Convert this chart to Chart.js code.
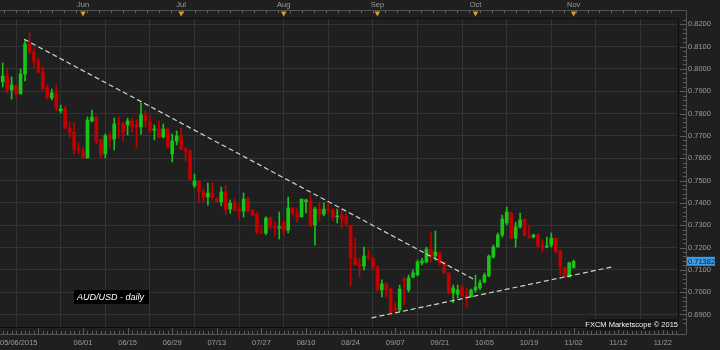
<!DOCTYPE html>
<html><head><meta charset="utf-8">
<script src="https://cdn.jsdelivr.net/npm/chart.js@4.4.1/dist/chart.umd.min.js"></script>
<style>html,body{margin:0;padding:0;background:#1e1e1e;overflow:hidden}canvas{display:block}</style>
</head><body>
<canvas id="c" width="720" height="350"></canvas>
<script>
// ---- data (AUD/USD daily, 05/06/2015 .. 11/02/2015, one entry per trading day) ----
const opens = [.7942,.7968,.7906,.7924,.7888,.7977,.8112,.8076,.8036,.7986,
.7915,.7870,.7892,.7812,.7821,.7735,.7717,.7641,.7632,.7601,
.7767,.7785,.7682,.7619,.7700,.7686,.7758,.7753,.7749,.7767,
.7749,.7740,.7794,.7762,.7726,.7731,.7695,.7731,.7619,.7677,
.7700,.7641,.7632,.7476,.7498,.7449,.7426,.7444,.7417,.7404,
.7449,.7372,.7399,.7372,.7363,.7417,.7368,.7350,.7269,.7265,
.7332,.7292,.7287,.7314,.7278,.7377,.7354,.7337,.7404,.7408,
.7301,.7372,.7350,.7372,.7368,.7337,.7345,.7337,.7296,.7153,
.7126,.7117,.7162,.7153,.7113,.7010,.7037,.7014,.6930,.6921,
.7059,.7010,.7068,.7077,.7131,.7135,.7193,.7162,.7175,.7131,
.7086,.6997,.6992,.7023,.6988,.6979,.7010,.7019,.7046,.7073,
.7157,.7202,.7256,.7310,.7354,.7242,.7292,.7328,.7251,.7247,
.7256,.7207,.7202,.7211,.7242,.7184,.7109,.7068,.7109];
const highs = [.8027,.8004,.7964,.7928,.8000,.8130,.8161,.8094,.8049,.8009,
.7928,.7910,.7928,.7838,.7834,.7762,.7758,.7668,.7650,.7785,
.7816,.7785,.7686,.7708,.7717,.7780,.7785,.7762,.7780,.7780,
.7771,.7847,.7812,.7794,.7749,.7767,.7753,.7735,.7708,.7722,
.7735,.7650,.7637,.7529,.7498,.7462,.7489,.7489,.7422,.7471,
.7476,.7413,.7417,.7395,.7444,.7426,.7368,.7359,.7301,.7337,
.7337,.7314,.7359,.7319,.7426,.7381,.7377,.7417,.7417,.7435,
.7381,.7404,.7399,.7399,.7377,.7372,.7372,.7354,.7301,.7242,
.7153,.7202,.7189,.7157,.7117,.7055,.7041,.7019,.6952,.7032,
.7068,.7077,.7100,.7144,.7153,.7202,.7269,.7274,.7180,.7135,
.7086,.7032,.7032,.7032,.7019,.7014,.7077,.7055,.7086,.7166,
.7211,.7265,.7345,.7381,.7359,.7314,.7354,.7328,.7301,.7260,
.7260,.7234,.7247,.7265,.7242,.7189,.7113,.7135,.7144];
const lows = [.7919,.7892,.7865,.7874,.7888,.7946,.8067,.8004,.7982,.7906,
.7865,.7861,.7812,.7803,.7731,.7691,.7619,.7619,.7601,.7601,
.7762,.7664,.7601,.7601,.7646,.7637,.7691,.7677,.7704,.7717,
.7646,.7708,.7740,.7717,.7682,.7691,.7691,.7646,.7583,.7659,
.7637,.7588,.7502,.7467,.7399,.7399,.7390,.7417,.7404,.7386,
.7350,.7354,.7363,.7328,.7337,.7359,.7341,.7260,.7265,.7256,
.7283,.7251,.7238,.7256,.7265,.7341,.7314,.7337,.7354,.7292,
.7211,.7319,.7341,.7354,.7323,.7310,.7287,.7296,.7028,.7122,
.7068,.7100,.7144,.7104,.7005,.6979,.6979,.6898,.6912,.6912,
.6943,.7001,.7064,.7073,.7122,.7131,.7135,.7144,.7122,.7082,
.6992,.6952,.6974,.6979,.6934,.6979,.7001,.7010,.7041,.7068,
.7153,.7202,.7247,.7301,.7238,.7202,.7287,.7251,.7242,.7242,
.7202,.7180,.7198,.7202,.7175,.7077,.7064,.7068,.7109];
const closes = [.7968,.7906,.7928,.7888,.7977,.8112,.8076,.8031,.7986,.7910,
.7870,.7892,.7825,.7821,.7735,.7717,.7641,.7637,.7601,.7771,
.7785,.7677,.7614,.7700,.7686,.7753,.7753,.7717,.7767,.7744,
.7740,.7794,.7767,.7726,.7731,.7695,.7731,.7650,.7677,.7700,
.7641,.7632,.7507,.7498,.7449,.7426,.7444,.7426,.7408,.7449,
.7372,.7399,.7368,.7363,.7417,.7363,.7345,.7269,.7265,.7332,
.7292,.7287,.7292,.7278,.7377,.7354,.7337,.7417,.7413,.7301,
.7372,.7350,.7372,.7368,.7337,.7341,.7328,.7305,.7153,.7122,
.7117,.7162,.7157,.7109,.7010,.7037,.7010,.6907,.6921,.7014,
.7050,.7064,.7086,.7135,.7140,.7193,.7157,.7180,.7131,.7086,
.6997,.7019,.7010,.6983,.6979,.7010,.7023,.7041,.7077,.7162,
.7202,.7256,.7328,.7359,.7242,.7292,.7323,.7256,.7247,.7256,
.7207,.7202,.7207,.7242,.7180,.7113,.7068,.7131,.71382];

// x tick positions (trading-day index) and their labels
const gridIdx   = [8,18,28,38,48,58,68,78,88,98,108,118,128,138,148];
const dateIdx   = [0,18,28,38,48,58,68,78,88,98,108,118,128,138,148];
const dateText  = ['05/06/2015','06/01','06/15','06/29','07/13','07/27','08/10','08/24','09/07','09/21','10/05','10/19','11/02','11/12','11/22'];
// month markers on the top strip
const monthIdx  = [18,40,63,84,106,128];
const monthText = ['Jun','Jul','Aug','Sep','Oct','Nov'];
// y ticks
const yTicks = [0.69,0.70,0.71,0.72,0.73,0.74,0.75,0.76,0.77,0.78,0.79,0.80,0.81,0.82];
// trend lines (index, price)
const resistX = [4.8, 105.5];   const resistY = [0.8133, 0.7059];
const supportX = [82.7, 136.6]; const supportY = [0.6885, 0.7113];

const X_MIN = -0.61, X_MAX = 151.4, Y_MIN = 0.6844, Y_MAX = 0.8228;
const UP = '#17c417', DOWN = '#c20000';
const FONT = 'Liberation Sans, Arial, sans-serif';

const idx = opens.map((_, i) => i);
const colors = idx.map(i => closes[i] >= opens[i] ? UP : DOWN);

const decor = {
  id: 'decor',
  beforeDraw(chart) {
    const ctx = chart.ctx;
    ctx.save();
    ctx.fillStyle = '#1f1f1f';
    ctx.fillRect(0, 0, chart.width, chart.height);
    ctx.restore();
  },
  afterDraw(chart) {
    const ctx = chart.ctx, ca = chart.chartArea, xs = chart.scales.x, ys = chart.scales.y;
    ctx.save();
    // outer gray frame of the axis strips
    ctx.strokeStyle = '#555';
    ctx.lineWidth = 1;
    ctx.beginPath();
    ctx.moveTo(0, 10.5); ctx.lineTo(686.5, 10.5); ctx.lineTo(686.5, 334.5); ctx.lineTo(0, 334.5);
    ctx.stroke();
    // top minor ticks
    ctx.strokeStyle = '#5c5c5c';
    ctx.beginPath();
    for (let v = 0.3; v < X_MAX; v += 2.67) {
      const px = Math.round(xs.getPixelForValue(v)) + 0.5;
      ctx.moveTo(px, 10.5); ctx.lineTo(px, 13.5);
    }
    ctx.stroke();
    // bottom ticks
    ctx.beginPath();
    for (let v = 0; v < X_MAX; v += 1) {
      const px = Math.round(xs.getPixelForValue(v)) + 0.5;
      const major = gridIdx.includes(v);
      ctx.moveTo(px, major ? 328 : 331); ctx.lineTo(px, 334.5);
    }
    ctx.stroke();
    // right axis ticks
    ctx.beginPath();
    for (let k = 342; k <= 411; k++) {
      const v = k / 500;
      const py = Math.round(ys.getPixelForValue(v)) + 0.5;
      if (py < ca.top || py > ca.bottom) continue;
      const major = k % 5 === 0;
      ctx.moveTo(major ? 680 : 683, py); ctx.lineTo(686.5, py);
    }
    ctx.stroke();
    // plot border
    ctx.strokeStyle = '#0d0d0d';
    ctx.beginPath();
    ctx.moveTo(ca.left, ca.top + 0.5); ctx.lineTo(ca.right + 0.5, ca.top + 0.5);
    ctx.lineTo(ca.right + 0.5, ca.bottom + 0.5); ctx.lineTo(ca.left, ca.bottom + 0.5);
    ctx.stroke();
    // month labels and markers
    ctx.font = '7.5px ' + FONT;
    ctx.fillStyle = '#9c9c9c';
    ctx.textAlign = 'center';
    ctx.textBaseline = 'middle';
    monthIdx.forEach((m, i) => {
      const px = xs.getPixelForValue(m);
      ctx.fillStyle = '#9c9c9c';
      ctx.fillText(monthText[i], px, 5);
      ctx.fillStyle = '#d8a316';
      ctx.beginPath();
      ctx.moveTo(px - 2.8, 11.5); ctx.lineTo(px + 2.8, 11.5); ctx.lineTo(px, 16.5); ctx.closePath();
      ctx.fill();
    });
    // date labels
    ctx.fillStyle = '#9c9c9c';
    dateIdx.forEach((d, i) => {
      const px = xs.getPixelForValue(d);
      ctx.textAlign = i === 0 ? 'left' : 'center';
      ctx.fillText(dateText[i], i === 0 ? 0 : px, 343);
    });
    // AUD/USD - daily label
    ctx.fillStyle = '#000';
    ctx.fillRect(74, 290, 75, 14);
    ctx.fillStyle = '#fff';
    ctx.textAlign = 'left';
    ctx.font = 'italic 9px ' + FONT;
    ctx.fillText('AUD/USD - daily', 77, 297.5);
    // copyright
    ctx.font = '7.5px ' + FONT;
    ctx.fillStyle = '#141414';
    ctx.fillRect(587, 319, 91, 11);
    ctx.fillStyle = '#f2f2f2';
    ctx.textAlign = 'right';
    ctx.fillText('FXCM Marketscope \u00A9 2015', ca.right, 324.5);
    // last price tag
    const last = closes[closes.length - 1];
    const py = ys.getPixelForValue(last);
    ctx.fillStyle = '#3c9ae6';
    ctx.fillRect(687, py - 4.5, 28, 9);
    ctx.fillStyle = '#0a1e33';
    ctx.textAlign = 'left';
    ctx.fillText(last.toFixed(5), 688, py + 0.5);
    ctx.restore();
  }
};

new Chart(document.getElementById('c'), {
  type: 'bar',
  data: {
    datasets: [
      { label: 'body', data: idx.map(i => ({x: i, y: [opens[i], closes[i]]})),
        backgroundColor: colors, borderWidth: 0, barThickness: 3, minBarLength: 1, grouped: false, order: 1 },
      { label: 'wick', data: idx.map(i => ({x: i, y: [lows[i], highs[i]]})),
        backgroundColor: colors, borderWidth: 0, barThickness: 1, grouped: false, order: 2 },
      { type: 'line', label: 'resistance', data: resistX.map((x, i) => ({x, y: resistY[i]})),
        borderColor: '#c9d9c9', borderWidth: 1.2, borderDash: [5, 3], pointRadius: 0, fill: false, order: 0 },
      { type: 'line', label: 'support', data: supportX.map((x, i) => ({x, y: supportY[i]})),
        borderColor: '#c9d9c9', borderWidth: 1.2, borderDash: [5, 3], pointRadius: 0, fill: false, order: 0 }
    ]
  },
  options: {
    responsive: false,
    animation: false,
    devicePixelRatio: 1,
    layout: { padding: { top: 18, left: 0, right: 0, bottom: 0 } },
    plugins: { legend: { display: false }, tooltip: { enabled: false } },
    scales: {
      x: {
        type: 'linear', min: X_MIN, max: X_MAX, offset: false,
        afterBuildTicks: s => { s.ticks = gridIdx.map(v => ({value: v})); },
        afterFit: s => { s.height = 23; },
        ticks: { display: false },
        grid: { color: '#333333', drawTicks: false },
        border: { display: false }
      },
      y: {
        position: 'right', min: Y_MIN, max: Y_MAX,
        afterBuildTicks: s => { s.ticks = yTicks.map(v => ({value: v})); },
        afterFit: s => { s.width = 42; },
        ticks: { color: '#9c9c9c', padding: 10, font: { family: FONT, size: 7.5 }, callback: v => v.toFixed(4) },
        grid: { color: '#333333', drawTicks: false },
        border: { display: false }
      }
    }
  },
  plugins: [decor]
});
</script>
</body></html>
